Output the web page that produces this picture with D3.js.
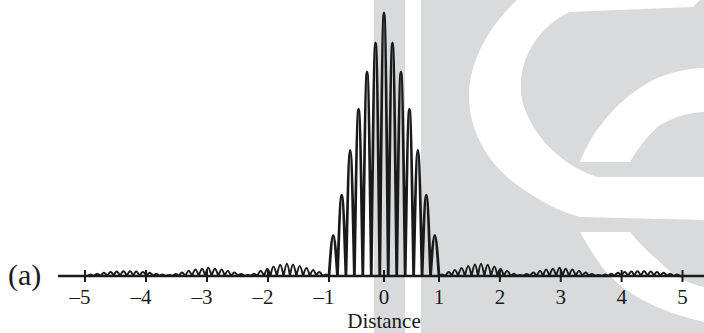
<!DOCTYPE html>
<html>
<head>
<meta charset="utf-8">
<script src="https://cdn.jsdelivr.net/npm/d3@7"></script>
<style>
body { margin: 0; background: #fff; }
svg { display: block; }
</style>
</head>
<body>
<div id="chart"></div>
<script>
// central fringes (relative intensity, peak = 1)
var centralPeakX = [-0.923, -0.769, -0.615, -0.462, -0.308, -0.154, 0, 0.154, 0.308, 0.462, 0.615, 0.769, 0.923];
var centralPeakI = [0.154, 0.307, 0.478, 0.633, 0.775, 0.886, 1, 0.886, 0.775, 0.633, 0.478, 0.307, 0.154];
var centralEdges = [-1, 1];

// side lobes, right half (mirrored to the left)
var sideLobeX = [1.05, 1.16, 1.26, 1.37, 1.48, 1.59, 1.69, 1.80, 1.91, 2.01, 2.12, 2.23, 2.33,
	2.44, 2.55, 2.66, 2.76, 2.87, 2.98, 3.08, 3.19, 3.30, 3.41, 3.51, 3.62,
	3.73, 3.83, 3.94, 4.05, 4.16, 4.26, 4.37, 4.48, 4.58, 4.69, 4.80, 4.91];
var sideLobeI = [0.006, 0.015, 0.023, 0.030, 0.038, 0.044, 0.047, 0.043, 0.036, 0.028, 0.019, 0.009, 0.004,
	0.008, 0.013, 0.019, 0.025, 0.028, 0.031, 0.028, 0.025, 0.019, 0.013, 0.008, 0.004,
	0.006, 0.009, 0.012, 0.015, 0.017, 0.018, 0.018, 0.017, 0.015, 0.012, 0.009, 0.006];
var sideLobeRange = [1, 4.96];

var tickValues = [-5, -4, -3, -2, -1, 0, 1, 2, 3, 4, 5];
var xLabel = "Distance";
var panelLabel = "(a)";

var width = 704, height = 333;
var baseY = 276;
var serif = "'Liberation Serif', 'Times New Roman', serif";

var svg = d3.select("#chart")
	.append("svg")
	.attr("width", width)
	.attr("height", height);

// scanned page background (watermark)
var wm = svg.append("g").attr("class", "watermark");
wm.append("rect").attr("x", 374).attr("y", 0).attr("width", 31).attr("height", height).attr("fill", "#d9dadb");
wm.append("rect").attr("x", 421).attr("y", 0).attr("width", width - 421).attr("height", height).attr("fill", "#d9dadb");
wm.append("path")
	.attr("fill", "#fff")
	.attr("d", "M517,0 C490,25 470,60 469,93 C468,130 488,165 520,187 C540,201 560,212 580,217 L704,220 L704,177 L597,177 " +
		"C560,165 530,133 522,100 C515,60 540,25 570,12 L693,7 L700,0 Z");
wm.append("path")
	.attr("fill", "#fff")
	.attr("d", "M580,162 C590,135 615,100 653,80 C670,72 690,68 704,68 L704,112 C690,112 675,117 660,125 C648,135 638,148 630,162 Z");
wm.append("path")
	.attr("fill", "#fff")
	.attr("d", "M580,232 C590,250 600,265 607,273 C625,292 653,310 704,322 L704,287 C690,284 675,278 660,262 C648,252 638,242 630,232 Z");

var x = d3.scaleLinear()
	.domain([-5, -1, 0, 1, 5])
	.range([85, 329, 384, 439, 682.5]);
var y = d3.scaleLinear()
	.domain([0, 1])
	.range([baseY, 13]);

function humpsFrom(px, pi, x0, x1) {
	var out = [];
	for (var i = 0; i < px.length; i++) {
		var a = i === 0 ? x0 : (px[i - 1] + px[i]) / 2;
		var b = i === px.length - 1 ? x1 : (px[i] + px[i + 1]) / 2;
		out.push([[a, 0], [px[i], pi[i]], [b, 0]]);
	}
	return out;
}

var centralHumps = humpsFrom(centralPeakX, centralPeakI, centralEdges[0], centralEdges[1]);
var rightHumps = humpsFrom(sideLobeX, sideLobeI, sideLobeRange[0], sideLobeRange[1]);
var leftHumps = rightHumps.map(function(h) {
	return h.map(function(p) { return [-p[0], p[1]]; }).reverse();
});

var line = d3.line()
	.x(function(d) { return x(d[0]); })
	.y(function(d) { return y(d[1]); })
	.curve(d3.curveNatural);

// axis line
svg.append("line")
	.attr("x1", 58).attr("x2", width)
	.attr("y1", baseY).attr("y2", baseY)
	.attr("stroke", "#1a1a1a")
	.attr("stroke-width", 2.6);

svg.append("path")
	.attr("d", leftHumps.concat(rightHumps).map(function(h) { return line(h); }).join(""))
	.attr("fill", "none")
	.attr("stroke", "#1a1a1a")
	.attr("stroke-width", 2)
	.attr("stroke-linejoin", "round");

svg.append("path")
	.attr("d", centralHumps.map(function(h) { return line(h); }).join(""))
	.attr("fill", "none")
	.attr("stroke", "#1a1a1a")
	.attr("stroke-width", 2.8)
	.attr("stroke-linejoin", "round");

var ticks = svg.selectAll("g.tick")
	.data(tickValues)
	.enter()
	.append("g")
	.attr("class", "tick")
	.attr("transform", function(d) { return "translate(" + x(d) + ",0)"; });
ticks.append("line")
	.attr("y1", baseY - 6).attr("y2", baseY + 6)
	.attr("stroke", "#1a1a1a")
	.attr("stroke-width", 2);
ticks.append("text")
	.attr("x", function(d) { return d < 0 ? 5.5 : 0; })
	.attr("y", 304)
	.attr("text-anchor", function(d) { return d < 0 ? "end" : "middle"; })
	.style("font-family", serif)
	.style("font-size", "21px")
	.attr("fill", "#1a1a1a")
	.text(function(d) { return d < 0 ? "\u2013" + (-d) : d; });

svg.append("text")
	.attr("x", 384)
	.attr("y", 328)
	.attr("text-anchor", "middle")
	.style("font-family", serif)
	.style("font-size", "21px")
	.attr("fill", "#1a1a1a")
	.text(xLabel);

svg.append("text")
	.attr("x", 8)
	.attr("y", 285)
	.style("font-family", serif)
	.style("font-size", "30px")
	.attr("fill", "#1a1a1a")
	.text(panelLabel);
</script>
</body>
</html>
